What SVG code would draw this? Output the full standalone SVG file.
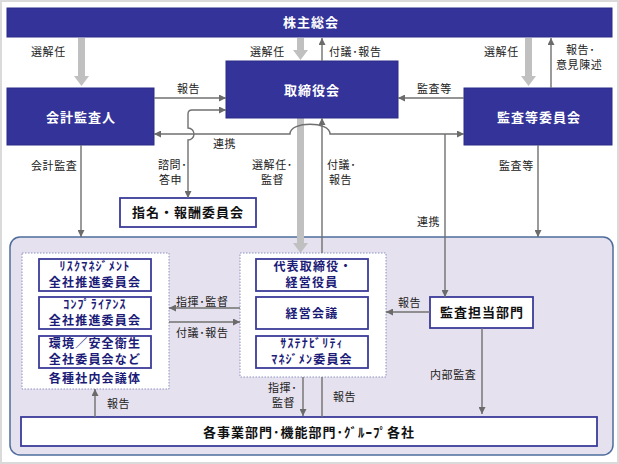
<svg xmlns="http://www.w3.org/2000/svg" width="619" height="464" viewBox="0 0 619 464">
<defs>
<marker id="ah" viewBox="0 0 10 10" refX="10" refY="5" markerWidth="7" markerHeight="7" markerUnits="userSpaceOnUse" orient="auto-start-reverse">
<path d="M0,0 L10,5 L0,10 z" fill="#6b6b6b"/>
</marker>
<style>
.dark{fill:#333399;stroke:#2b2d86;stroke-width:1}
.wt{font-family:"Noto Sans CJK JP","Noto Sans",sans-serif;font-weight:bold;font-size:13px;fill:#fff;text-anchor:middle;letter-spacing:1px}
.wbox{fill:#fff;stroke:#3b3b9a;stroke-width:1.8}
.bt{font-family:"Noto Sans CJK JP","Noto Sans",sans-serif;font-weight:bold;font-size:12px;fill:#1c1c78;text-anchor:middle;letter-spacing:1.2px}
.kt{font-family:"Noto Sans CJK JP","Noto Sans",sans-serif;font-weight:bold;font-size:13px;fill:#111;text-anchor:middle;letter-spacing:1px}
.lb{font-family:"Noto Sans CJK JP","Noto Sans",sans-serif;font-size:11px;fill:#222;letter-spacing:0.6px}
.ln{fill:none;stroke:#707070;stroke-width:1.4}
.grey{fill:#c0c0c0}
.dot{fill:#fff;stroke:#8c90c4;stroke-width:1;stroke-dasharray:1.5 1.5}
</style>
</defs>
<rect x="1" y="1" width="617" height="462" fill="#fff" stroke="#dadada" stroke-width="2"/>
<rect id="group-area" x="10" y="237" width="603" height="218" rx="10" fill="#e6e1ee" stroke="#4e6d9c" stroke-width="1.5"/>

<g id="thick-arrows">
<polygon class="grey" points="78,38 85,38 85,76 89,76 81.5,86 74,76 78,76"/>
<polygon class="grey" points="297,38 304,38 304,50 308,50 300.5,60 293,50 297,50"/>
<polygon class="grey" points="525,38 532,38 532,76 536,76 528.5,86 521,76 525,76"/>
<polygon class="grey" points="297,118 304,118 304,243 308,243 300.5,253 293,243 297,243"/>
</g>

<g id="n-shareholders">
<rect class="dark" x="7" y="8" width="605" height="29"/>
<text class="wt" x="311" y="27">株主総会</text>
</g>
<g id="n-board">
<rect class="dark" x="226" y="61" width="172" height="57"/>
<text class="wt" x="312" y="95">取締役会</text>
</g>
<g id="n-auditor">
<rect class="dark" x="7" y="88" width="147" height="57"/>
<text class="wt" x="81" y="122">会計監査人</text>
</g>
<g id="n-audit-committee">
<rect class="dark" x="464" y="88" width="148" height="57"/>
<text class="wt" x="539" y="122">監査等委員会</text>
</g>
<g id="n-nomination">
<rect class="wbox" x="120" y="198" width="136" height="29"/>
<text class="kt" x="188" y="217">指名・報酬委員会</text>
</g>

<g id="n-left-group">
<rect class="dot" x="22" y="253" width="147" height="136"/>
<rect class="wbox" x="39" y="259" width="112" height="32"/>
<text class="bt" x="95" y="271" font-size="11.5">ﾘｽｸﾏﾈｼﾞﾒﾝﾄ</text>
<text class="bt" x="95" y="287">全社推進委員会</text>
<rect class="wbox" x="39" y="297" width="112" height="32"/>
<text class="bt" x="95" y="309" font-size="11.5">ｺﾝﾌﾟﾗｲｱﾝｽ</text>
<text class="bt" x="95" y="325">全社推進委員会</text>
<rect class="wbox" x="39" y="336" width="112" height="32"/>
<text class="bt" x="95" y="348">環境／安全衛生</text>
<text class="bt" x="95" y="364">全社委員会など</text>
<text class="bt" x="95" y="383">各種社内会議体</text>
</g>

<g id="n-center-group">
<rect class="dot" x="240" y="253" width="146" height="124"/>
<rect class="wbox" x="256" y="259" width="112" height="32"/>
<text class="bt" x="313" y="271">代表取締役・</text>
<text class="bt" x="312" y="287">経営役員</text>
<rect class="wbox" x="256" y="297" width="112" height="32"/>
<text class="bt" x="312" y="318">経営会議</text>
<rect class="wbox" x="256" y="336" width="112" height="32"/>
<text class="bt" x="312" y="348" font-size="11.5">ｻｽﾃﾅﾋﾞﾘﾃｨ</text>
<text class="bt" x="312" y="364">ﾏﾈｼﾞﾒﾝ委員会</text>
</g>

<g id="n-internal-audit">
<rect class="wbox" x="430" y="297" width="103" height="31"/>
<text class="kt" x="482" y="317">監査担当部門</text>
</g>

<g id="n-business">
<rect class="wbox" x="21" y="417" width="576" height="29"/>
<text class="kt" x="309" y="437">各事業部門･機能部門･ｸﾞﾙｰﾌﾟ各社</text>
</g>

<g id="connectors">
<path class="ln" d="M322,61 V38" marker-end="url(#ah)"/>
<path class="ln" d="M551,88 V38" marker-end="url(#ah)"/>
<path class="ln" d="M154,98 H226" marker-end="url(#ah)"/>
<path class="ln" d="M464,98 H398" marker-end="url(#ah)"/>
<path class="ln" d="M464,134 H330 C330,121 290,121 290,134 H154" marker-start="url(#ah)" marker-end="url(#ah)"/>
<path class="ln" d="M226,110 H192 Q188,110 188,114 V128 A6,6 0 0 1 188,140 V198" marker-start="url(#ah)" marker-end="url(#ah)"/>
<path class="ln" d="M81,145 V237" marker-end="url(#ah)"/>
<path class="ln" d="M322,253 V118" marker-end="url(#ah)"/>
<path class="ln" d="M538,145 V237" marker-end="url(#ah)"/>
<path class="ln" d="M445,134 V297" marker-end="url(#ah)"/>
<path class="ln" d="M240,308 H169" marker-end="url(#ah)"/>
<path class="ln" d="M169,322 H240" marker-end="url(#ah)"/>
<path class="ln" d="M430,312 H386" marker-end="url(#ah)"/>
<path class="ln" d="M482,328 V414" marker-end="url(#ah)"/>
<path class="ln" d="M95,417 V389" marker-end="url(#ah)"/>
<path class="ln" d="M303,377 V416" marker-end="url(#ah)"/>
<path class="ln" d="M322,377 V417"/>
</g>

<g id="labels">
<text class="lb" x="31" y="56">選解任</text>
<text class="lb" x="250" y="56">選解任</text>
<text class="lb" x="329" y="56">付議･報告</text>
<text class="lb" x="484" y="56">選解任</text>
<text class="lb" x="566" y="54">報告･</text>
<text class="lb" x="556" y="69">意見陳述</text>
<text class="lb" x="177" y="93">報告</text>
<text class="lb" x="417" y="93">監査等</text>
<text class="lb" x="213" y="148">連携</text>
<text class="lb" x="31" y="170">会計監査</text>
<text class="lb" x="158" y="169">諮問･</text>
<text class="lb" x="159" y="184">答申</text>
<text class="lb" x="252" y="169">選解任･</text>
<text class="lb" x="261" y="184">監督</text>
<text class="lb" x="327" y="169">付議･</text>
<text class="lb" x="329" y="184">報告</text>
<text class="lb" x="499" y="170">監査等</text>
<text class="lb" x="417" y="226">連携</text>
<text class="lb" x="176" y="306">指揮･監督</text>
<text class="lb" x="176" y="337">付議･報告</text>
<text class="lb" x="398" y="307">報告</text>
<text class="lb" x="430" y="379">内部監査</text>
<text class="lb" x="107" y="408">報告</text>
<text class="lb" x="268" y="392">指揮･</text>
<text class="lb" x="272" y="407">監督</text>
<text class="lb" x="333" y="401">報告</text>
</g>
</svg>
